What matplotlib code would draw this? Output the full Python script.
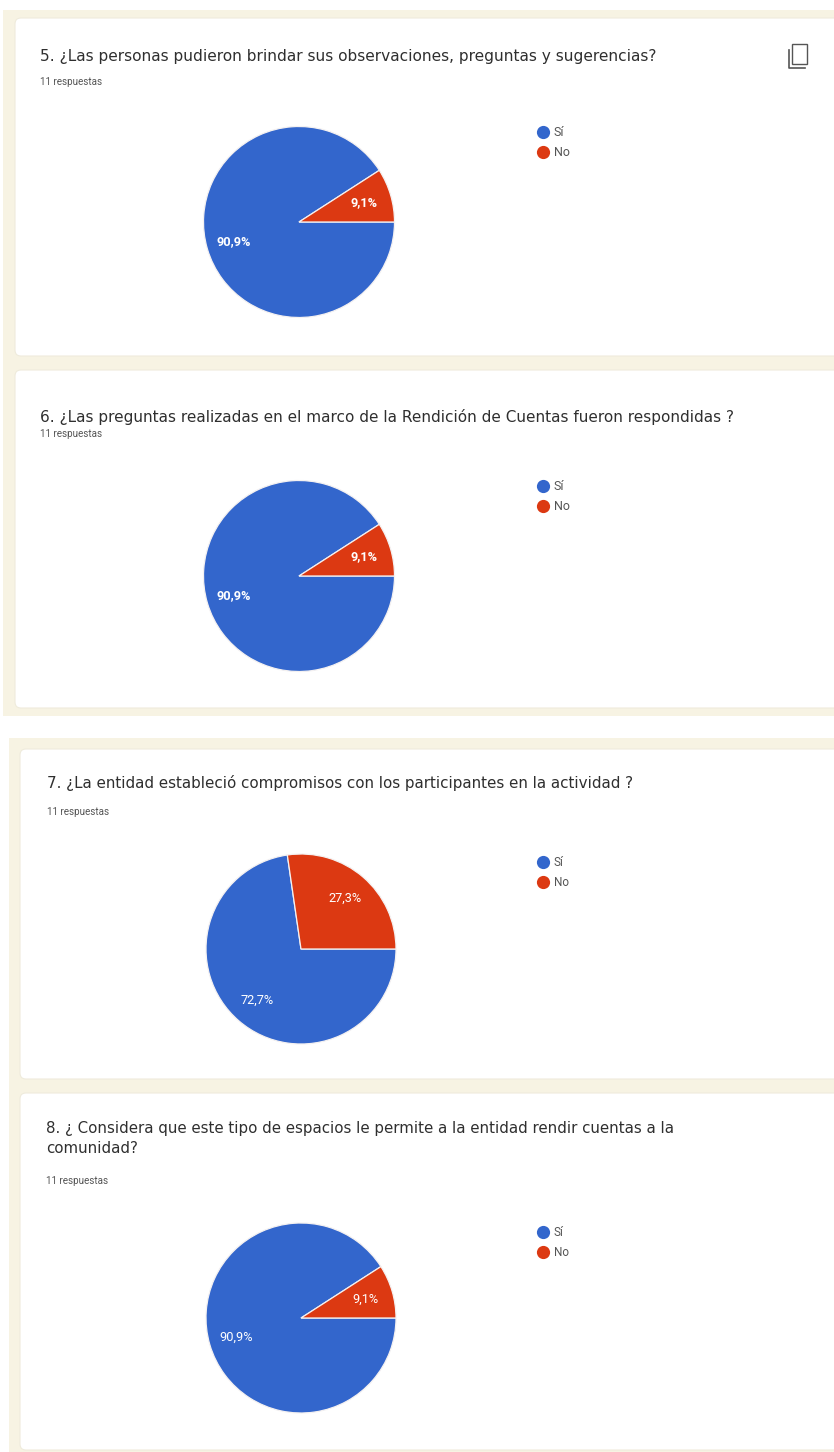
import matplotlib
matplotlib.use("Agg")
import matplotlib.pyplot as plt
from matplotlib.patches import FancyBboxPatch, Rectangle

W, H = 834, 1452

# chart values
questions = [
    "5. ¿Las personas pudieron brindar sus observaciones, preguntas y sugerencias?",
    "6. ¿Las preguntas realizadas en el marco de la Rendición de Cuentas fueron respondidas ?",
    "7. ¿La entidad estableció compromisos con los participantes en la actividad ?",
    "8. ¿ Considera que este tipo de espacios le permite a la entidad rendir cuentas a la\ncomunidad?",
]
responses = "11 respuestas"
categories = ["Sí", "No"]
si_values = [90.9, 90.9, 72.7, 90.9]
no_values = [9.1, 9.1, 27.3, 9.1]

BLUE = "#3366CC"
RED = "#DC3912"
BEIGE = "#F7F3E3"
plt.rcParams["font.family"] = ["Roboto", "DejaVu Sans"]

fig = plt.figure(figsize=(W / 100, H / 100), dpi=100, facecolor="w")
ax = fig.add_axes([0, 0, 1, 1])


def py(y):
    # picture y (top down) to axes y
    return H - y


def pct(p):
    return f"{p:.1f}%".replace(".", ",")


def card(x0, y0, y1):
    ax.add_patch(FancyBboxPatch((x0 + 5, py(y1) + 5), W + 40 - x0, y1 - y0 - 10,
                                boxstyle="round,pad=5,rounding_size=6",
                                fc="w", ec="#EFEBDC", lw=0.8, zorder=1))


# beige backgrounds and white cards
ax.add_patch(Rectangle((3, py(716)), W - 3, 706, fc=BEIGE, ec="none", zorder=0))
ax.add_patch(Rectangle((9, py(1452)), W - 9, 714, fc=BEIGE, ec="none", zorder=0))
card(15, 18, 356)
card(15, 370, 708)
card(20, 749, 1079)
card(20, 1093, 1450)

# text x, title y, title size, responses y, pie x, pie y, radius, legend x, legend y, label weight, legend size
panels = [
    (40, 57, 11.05, 82, 299, 222, 95.5, 543, 132, "bold", 9.0),
    (40, 417, 10.98, 434, 299, 576, 95.5, 543, 486, "bold", 9.0),
    (47, 783, 10.9, 812, 301, 949, 95, 543, 862, "normal", 8.5),
    (46, 1138.5, 10.8, 1181, 301, 1318, 95, 543, 1232, "normal", 8.5),
]

for i, (tx, ty, tfs, ry, cx, cy, r, lx, ly, weight, lfs) in enumerate(panels):
    ax.text(tx, py(ty), questions[i], fontsize=tfs, color="#2f2f2f", va="center",
            family="DejaVu Sans", linespacing=1.45, zorder=3)
    ax.text(tx, py(ry), responses, fontsize=7.1, color="#555555", va="center", zorder=3)

    wedges, _, autos = ax.pie(
        [si_values[i], no_values[i]], colors=[BLUE, RED],
        center=(cx, py(cy)), radius=r,
        startangle=360 * no_values[i] / 100, autopct=pct, pctdistance=0.71,
        wedgeprops={"ec": "#F4F1F1", "lw": 0.9},
        textprops={"color": "w", "fontsize": 9.2, "fontweight": weight},
        frame=False,
    )
    for wedge in wedges:
        wedge.set_zorder(2)
    for a in autos:
        a.set_zorder(4)

    for j, (name, col) in enumerate(zip(categories, [BLUE, RED])):
        y = ly + j * 20
        ax.plot([lx], [py(y)], "o", ms=9.5, color=col, mec="none", zorder=3)
        ax.text(lx + 11, py(y), name, fontsize=lfs, color="#555555", va="center", zorder=3)

# copy icon top right of the first card
ax.add_patch(Rectangle((792.5, py(64)), 15, 20, fc="none", ec="#555555", lw=1.0, zorder=3))
ax.plot([789.5, 789.5, 805], [py(50), py(67.5), py(67.5)], color="#555555", lw=1.2, zorder=3)

ax.set_xlim(0, W)
ax.set_ylim(0, H)
ax.set_aspect("auto")
ax.axis("off")

fig.savefig("out.png", dpi=100)
